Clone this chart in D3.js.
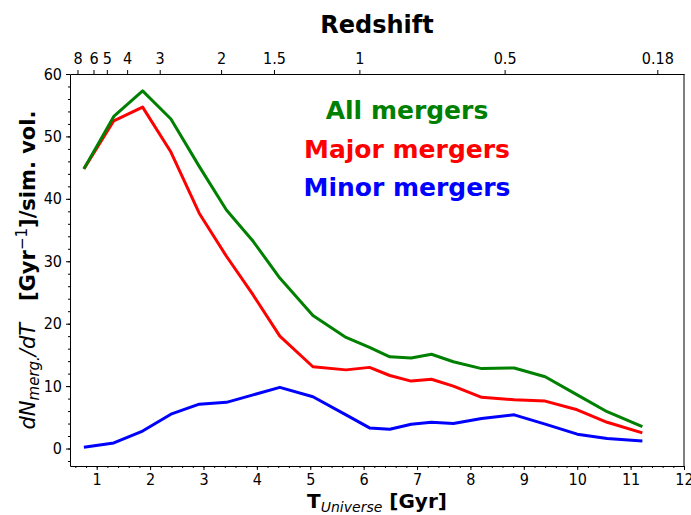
<!DOCTYPE html>
<html>
<head>
<meta charset="utf-8">
<script src="https://cdn.jsdelivr.net/npm/d3@7"></script>
<style>
	body { margin: 0; background: #fff; }
	svg text { font-family: "DejaVu Sans", sans-serif; }
	.tick text { font-size: 16px; font-stretch: condensed; fill: #000; }
	.tick line, .domain { stroke: #000; }
</style>
</head>
<body>
<div id="chart"></div>
<script>
// cosmic time of each snapshot bin [Gyr]
var tUniverse = [0.76, 1.32, 1.86, 2.39, 2.92, 3.43, 3.93, 4.43, 5.05, 5.67, 6.11, 6.49, 6.89, 7.27, 7.68, 8.21, 8.82, 9.40, 10.0, 10.56, 11.22];
var allMergers   = [44.8, 53.2, 57.3, 52.8, 45.2, 38.2, 33.2, 27.3, 21.3, 17.8, 16.2, 14.7, 14.5, 15.1, 13.9, 12.8, 12.9, 11.5, 8.6, 5.9, 3.5];
var majorMergers = [44.8, 52.5, 54.7, 47.5, 37.7, 30.8, 24.6, 18.0, 13.1, 12.6, 13.0, 11.7, 10.8, 11.1, 10.0, 8.2, 7.8, 7.6, 6.2, 4.2, 2.5];
var minorMergers = [0.2, 0.9, 2.8, 5.5, 7.1, 7.4, 8.6, 9.8, 8.3, 5.4, 3.3, 3.1, 3.9, 4.2, 4.0, 4.8, 5.4, 3.9, 2.3, 1.6, 1.2];

// top axis: redshift labels and the matching age of the universe [Gyr]
var redshiftLabels = ['8', '6', '5', '4', '3', '2', '1.5', '1', '0.5', '0.18'];
var redshiftAges = [0.64, 0.94, 1.19, 1.57, 2.18, 3.33, 4.32, 5.92, 8.64, 11.5];

var xTicks = [1, 2, 3, 4, 5, 6, 7, 8, 9, 10, 11, 12];
var yTicks = [0, 10, 20, 30, 40, 50, 60];

var series = [
	{name: 'Major mergers', values: majorMergers, color: 'red'},
	{name: 'All mergers', values: allMergers, color: 'green'},
	{name: 'Minor mergers', values: minorMergers, color: 'blue'}
];

var params = {
	width: 691, height: 515,
	margin: {left: 70, right: 7, top: 74, bottom: 49}
};
params.plotW = params.width - params.margin.left - params.margin.right;
params.plotH = params.height - params.margin.top - params.margin.bottom;

var svg = d3.select('#chart').append('svg')
	.attr('width', params.width)
	.attr('height', params.height);

var g = svg.append('g')
	.attr('transform', 'translate(' + params.margin.left + ',' + params.margin.top + ')');

var x = d3.scaleLinear().domain([0.5, 12]).range([0, params.plotW]);
var y = d3.scaleLinear().domain([-2.8, 60]).range([params.plotH, 0]);

// minor ticks first, then the labelled ones
g.append('g')
	.attr('transform', 'translate(0,' + params.plotH + ')')
	.call(d3.axisBottom(x).tickValues(d3.range(0.6, 12, 0.2)).tickSize(2).tickFormat(''))
	.call(function(s){ s.select('.domain').remove(); });
g.append('g')
	.call(d3.axisLeft(y).tickValues(d3.range(-2, 60, 2)).tickSize(2).tickFormat(''))
	.call(function(s){ s.select('.domain').remove(); });

g.append('g')
	.attr('transform', 'translate(0,' + params.plotH + ')')
	.call(d3.axisBottom(x).tickValues(xTicks).tickSize(4).tickPadding(4).tickSizeOuter(0).tickFormat(d3.format('d')));
g.append('g')
	.call(d3.axisLeft(y).tickValues(yTicks).tickSize(4).tickPadding(4).tickSizeOuter(0));
g.append('g')
	.call(d3.axisTop(x).tickValues(redshiftAges).tickSize(4).tickPadding(6).tickSizeOuter(0)
		.tickFormat(function(d, i){ return redshiftLabels[i]; }));
g.append('line')
	.attr('x1', params.plotW).attr('x2', params.plotW)
	.attr('y1', 0).attr('y2', params.plotH)
	.attr('stroke', '#000');

// the curves
var line = d3.line()
	.x(function(d, i){ return x(tUniverse[i]); })
	.y(function(d){ return y(d); });

g.selectAll('.curve')
	.data(series).enter()
	.append('path')
		.attr('class', 'curve')
		.attr('d', function(d){ return line(d.values); })
		.attr('fill', 'none')
		.attr('stroke', function(d){ return d.color; })
		.attr('stroke-width', 3)
		.attr('stroke-linejoin', 'round');

// legend as coloured text
var legendOrder = ['All mergers', 'Major mergers', 'Minor mergers'];
var legendBase = [45, 84, 122];
legendOrder.forEach(function(name, i){
	var s = series.filter(function(d){ return d.name == name; })[0];
	g.append('text')
		.attr('x', 337)
		.attr('y', legendBase[i])
		.attr('text-anchor', 'middle')
		.style('font-size', '25px')
		.style('font-weight', 'bold')
		.style('fill', s.color)
		.text(name);
});

// axis titles
svg.append('text')
	.attr('x', params.margin.left + params.plotW / 2)
	.attr('y', 33)
	.attr('text-anchor', 'middle')
	.style('font-size', '24px')
	.style('font-weight', 'bold')
	.text('Redshift');

var xl = svg.append('text')
	.attr('x', params.margin.left + params.plotW / 2)
	.attr('y', 508)
	.attr('text-anchor', 'middle')
	.style('font-size', '20px')
	.style('font-weight', 'bold');
xl.append('tspan').text('T');
xl.append('tspan').attr('dy', 4).style('font-size', '14px').style('font-style', 'italic').style('font-weight', 'normal').text('Universe');
xl.append('tspan').attr('dy', -4).text(' [Gyr]');

var yl = svg.append('text')
	.attr('transform', 'translate(35,' + (params.margin.top + params.plotH / 2) + ') rotate(-90)')
	.attr('text-anchor', 'middle')
	.style('font-size', '21px');
yl.append('tspan').style('font-style', 'italic').text('dN');
yl.append('tspan').attr('dy', 4).style('font-style', 'italic').style('font-size', '15px').text('merg.');
yl.append('tspan').attr('dy', -4).style('font-style', 'italic').text('/dT');
yl.append('tspan').style('font-weight', 'bold').text('\u00a0\u00a0\u00a0[Gyr');
yl.append('tspan').attr('dy', -8).style('font-size', '15px').text('\u22121');
yl.append('tspan').attr('dy', 8).style('font-weight', 'bold').text(']/sim. vol.');
</script>
</body>
</html>
